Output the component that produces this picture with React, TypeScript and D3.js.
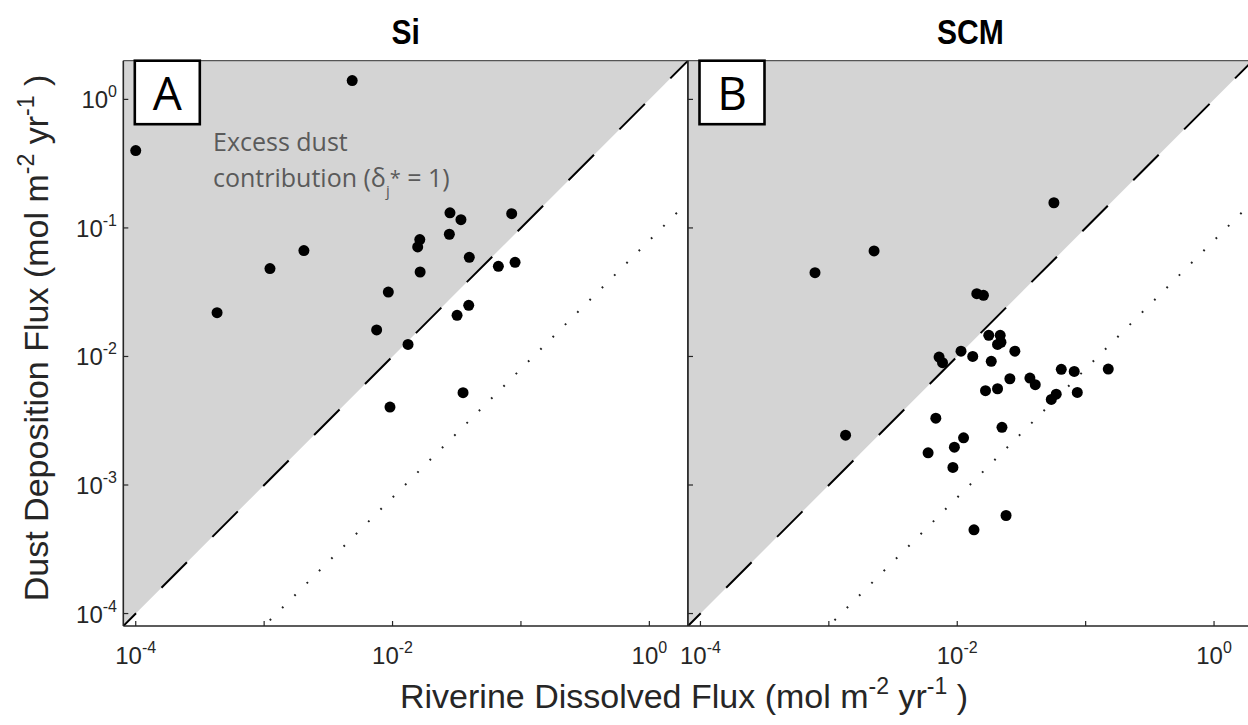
import React from 'react';
import * as d3 from 'd3';

// Si panel (A)
const siRiverine = [4.85e-3, 1.0e-4, 4.3e-4, 1.11e-3, 2.04e-3, 0.028, 0.0341, 0.0847, 0.0277, 0.0163, 0.0157, 0.0396, 0.0667, 0.09, 0.0164, 9.27e-3, 0.0392, 0.0318, 7.52e-3, 0.0132, 0.0354, 9.55e-3];
const siDust = [1.4, 0.4, 0.0219, 0.0483, 0.0667, 0.131, 0.116, 0.129, 0.0893, 0.0812, 0.0711, 0.0591, 0.0503, 0.054, 0.0454, 0.0317, 0.025, 0.0209, 0.0161, 0.0124, 5.23e-3, 4.04e-3];

// SCM panel (B)
const scmRiverine = [0.0566, 2.25e-3, 7.8e-4, 0.0142, 0.016, 0.0176, 0.0216, 0.0219, 0.0206, 0.0281, 0.0107, 0.0132, 7.22e-3, 7.68e-3, 0.0184, 0.0257, 0.0206, 0.0166, 0.0368, 0.0405, 0.0646, 0.0815, 0.15, 0.059, 0.054, 0.0861, 6.81e-3, 0.0223, 1.35e-3, 0.0112, 9.5e-3, 5.93e-3, 9.25e-3, 0.024, 0.0135];
const scmDust = [0.157, 0.0662, 0.0449, 0.0308, 0.0299, 0.0146, 0.0146, 0.0129, 0.0124, 0.011, 0.011, 0.01, 9.9e-3, 8.95e-3, 9.16e-3, 6.71e-3, 5.61e-3, 5.42e-3, 6.79e-3, 6.03e-3, 7.94e-3, 7.65e-3, 7.98e-3, 5.09e-3, 4.63e-3, 5.25e-3, 3.31e-3, 2.81e-3, 2.44e-3, 2.33e-3, 1.97e-3, 1.78e-3, 1.37e-3, 5.79e-4, 4.48e-4];

// axes
const domain = [8e-5, 2];
const tickValues = [1e-4, 1e-3, 1e-2, 1e-1, 1];
const xTickLabels = ['-4', '', '-2', '', '0'];
const yTickLabels = ['-4', '-3', '-2', '-1', '0'];
const dashedRatio = 1; // δj* = 1 line
const dottedRatio = 0.08;

const panelTitles = ['Si', 'SCM'];
const panelLetters = ['A', 'B'];

const W = 1248, H = 725;
const top = 60.7, bottom = 626;
const panelW = 564.7;
const lefts = [123.3, 688];

const sans = '"Liberation Sans", Arial, Helvetica, sans-serif';
const humanist = '"Open Sans", Lato, sans-serif';
const axisColor = '#262626';

function Panel({ idx, rx, dy }: { idx: number; rx: number[]; dy: number[] }) {
  const left = lefts[idx];
  const x = d3.scaleLog().domain(domain).range([left, left + panelW]);
  const y = d3.scaleLog().domain(domain).range([bottom, top]);
  const clipId = 'clip' + idx;
  const xmin = domain[0], xmax = domain[1];
  const shade = [[xmin, xmin], [xmax, xmax], [xmin, xmax]]
    .map(p => x(p[0]) + ',' + y(p[1])).join(' ');
  const ratioLine = (r: number) => d3.line<number>().x(d => x(d)).y(d => y(d * r));

  return (
    <g>
      <defs>
        <clipPath id={clipId}>
          <rect x={left} y={top} width={panelW} height={bottom - top} />
        </clipPath>
      </defs>
      <polygon points={shade} fill="#d4d4d4" />
      <g clipPath={`url(#${clipId})`}>
        <path
          d={ratioLine(dashedRatio)([xmin, xmax]) as string}
          fill="none" stroke="#000" strokeWidth={2}
          strokeDasharray="36 36" strokeDashoffset={18} />
        <path
          d={ratioLine(dottedRatio)([xmin / dottedRatio, xmax]) as string}
          fill="none" stroke="#222" strokeWidth={2}
          strokeDasharray="1.8 15.6" strokeDashoffset={-8} />
        {rx.map((v, i) => (
          <circle key={i} cx={x(v)} cy={y(dy[i])} r={5.5} fill="#000" />
        ))}
      </g>

      {/* box */}
      <line x1={left} x2={left + panelW} y1={top} y2={top} stroke="#555" strokeWidth={1.2} />
      <line x1={left} x2={left + panelW} y1={bottom} y2={bottom} stroke={axisColor} strokeWidth={1.6} />
      <line x1={left} x2={left} y1={top} y2={bottom} stroke={axisColor} strokeWidth={1.6} />
      <line x1={left + panelW} x2={left + panelW} y1={top} y2={bottom} stroke={axisColor} strokeWidth={1.6} />

      {/* ticks */}
      {tickValues.map((t, i) => (
        <g key={'xt' + i}>
          <line x1={x(t)} x2={x(t)} y1={bottom} y2={bottom - 5} stroke={axisColor} strokeWidth={1.2} />
          {xTickLabels[i] !== '' && (
            <text x={x(t)} y={664} textAnchor="middle" fontFamily={sans} fontSize={24} fill="#262626">
              <tspan>10</tspan>
              <tspan dy={-11} fontSize={16}>{xTickLabels[i]}</tspan>
            </text>
          )}
        </g>
      ))}
      {tickValues.map((t, i) => (
        <g key={'yt' + i}>
          <line x1={left} x2={left + 5} y1={y(t)} y2={y(t)} stroke={axisColor} strokeWidth={1.2} />
          {idx === 0 && (
            <text x={117} y={y(t) + 9} textAnchor="end" fontFamily={sans} fontSize={24} fill="#262626">
              <tspan>10</tspan>
              <tspan dy={-11} fontSize={16}>{yTickLabels[i]}</tspan>
            </text>
          )}
        </g>
      ))}

      {/* title */}
      <text transform={`translate(${left + panelW / 2},44) scale(0.86,1)`} textAnchor="middle" fontFamily={sans}
        fontWeight="bold" fontSize={35} fill="#000">{panelTitles[idx]}</text>

      {/* letter box */}
      <rect x={left + 11.5} y={top} width={65} height={63.5} fill="#fff" stroke="#000" strokeWidth={2.6} />
      <text x={left + 44} y={110} textAnchor="middle" fontFamily={humanist} fontSize={46} fill="#000">
        {panelLetters[idx]}
      </text>

      {idx === 0 && (
        <text fontFamily={humanist} fontSize={25} fill="#5a5a5a" style={{ whiteSpace: 'pre' }}>
          <tspan x={213} y={151}>Excess dust</tspan>
          <tspan x={213} y={187}>contribution (δ</tspan>
          <tspan dy={9} fontSize={15}>j</tspan>
          <tspan dy={-11} fontSize={20}>*</tspan>
          <tspan dy={2}> = 1)</tspan>
        </text>
      )}
    </g>
  );
}

export default function App() {
  return (
    <div style={{ position: 'absolute', left: 0, top: 0 }}>
      <svg width={W} height={H} style={{ display: 'block', background: '#fff' }}>
        <rect x={0} y={0} width={W} height={H} fill="#fff" />
        <Panel idx={0} rx={siRiverine} dy={siDust} />
        <Panel idx={1} rx={scmRiverine} dy={scmDust} />

        <text x={684} y={708} textAnchor="middle" fontFamily={sans} fontSize={34} fill="#262626"
          style={{ whiteSpace: 'pre' }}>
          <tspan>Riverine Dissolved Flux (mol m</tspan>
          <tspan dy={-14} fontSize={23}>-2</tspan>
          <tspan dy={14}> yr</tspan>
          <tspan dy={-14} fontSize={23}>-1</tspan>
          <tspan dy={14}> )</tspan>
        </text>
        <text transform="translate(48,338) rotate(-90)" textAnchor="middle" fontFamily={sans}
          fontSize={34} fill="#262626" style={{ whiteSpace: 'pre' }}>
          <tspan>Dust Deposition Flux (mol m</tspan>
          <tspan dy={-14} fontSize={23}>-2</tspan>
          <tspan dy={14}> yr</tspan>
          <tspan dy={-14} fontSize={23}>-1</tspan>
          <tspan dy={14}> )</tspan>
        </text>
      </svg>
    </div>
  );
}
